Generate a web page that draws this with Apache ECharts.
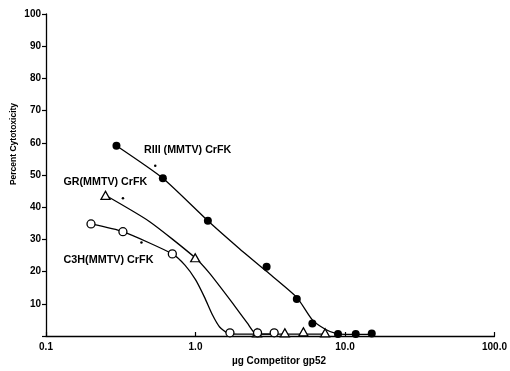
<!DOCTYPE html>
<html><head><meta charset="utf-8">
<script src="https://cdn.jsdelivr.net/npm/echarts@6/dist/echarts.min.js"></script>
<style>html,body{margin:0;padding:0;background:#fff}#c{width:510px;height:371px}</style>
</head><body><div id="c"></div>
<script>
// ---- data ----
const xTickValues = [0.1, 1, 10, 100];
const xTickLabels = ['0.1', '1.0', '10.0', '100.0'];

const riiiX = [0.296, 0.605, 1.21, 2.99, 4.76, 6.05, 8.98, 11.8, 15.1];
const riiiY = [59.1, 49.0, 35.8, 21.5, 11.5, 3.9, 0.6, 0.6, 0.8];
const grX = [0.25, 0.995, 2.58, 3.96, 5.27, 7.36];
const grY = [43.7, 24.3, 1.0, 1.0, 1.3, 1.0];
const c3hX = [0.2, 0.327, 0.70, 1.70, 2.6, 3.36];
const c3hY = [34.8, 32.4, 25.5, 1.0, 1.0, 1.0];

const riiiFitX = [0.296, 0.605, 1.21, 1.96, 3.0, 4.76, 6.05, 7.43, 8.67, 10, 15.5];
const riiiFitY = [59.1, 49.0, 35.8, 27.2, 20.0, 12.0, 5.0, 2.0, 0.8, 0.5, 0.5];
const grFitX = [0.25, 0.494, 0.995, 1.24, 1.77, 2.23, 2.48, 2.8, 7.4];
const grFitY = [43.7, 35.5, 24.3, 19.5, 10.2, 3.9, 1.0, 0.6, 0.6];
const c3hFitX = [0.2, 0.327, 0.70, 0.85, 1.0, 1.15, 1.3, 1.45, 1.65, 1.9, 3.4];
const c3hFitY = [34.8, 32.4, 25.5, 22.0, 17.5, 12.0, 6.5, 2.8, 0.8, 0.6, 0.6];

const dotX = [0.538, 0.327, 0.435];
const dotY = [52.9, 42.8, 29.0];

const seriesNames = ['RIII (MMTV) CrFK', 'GR(MMTV) CrFK', 'C3H(MMTV) CrFK'];
const xTitle = 'µg Competitor gp52';
const yTitle = 'Percent Cytotoxicity';

// ---- build ----
const zip = (a, b) => a.map((v, i) => [v, b[i]]);
const FONT = '"Liberation Sans", Arial, Helvetica, sans-serif';
const lineStyle = { color: '#000', width: 1.3 };

function fitLine(x, y) {
  return { type: 'line', data: zip(x, y), showSymbol: false, smooth: 0.2,
    lineStyle: lineStyle, silent: true, z: 2 };
}

const chart = echarts.init(document.getElementById('c'), null, { renderer: 'canvas' });
chart.setOption({
  animation: false,
  backgroundColor: '#fff',
  grid: { left: 46, right: 14, top: 14, bottom: 35 },
  xAxis: {
    type: 'log', logBase: 10, min: 0.1, max: 100,
    axisLine: { lineStyle: { color: '#000', width: 1.3 } },
    axisTick: { inside: true, length: 4, lineStyle: { color: '#000', width: 1.2 } },
    minorTick: { show: false },
    splitLine: { show: false },
    axisLabel: {
      color: '#000', fontFamily: FONT, fontWeight: 'bold', fontSize: 10, margin: 6,
      showMinLabel: true, showMaxLabel: true,
      formatter: v => {
        const i = xTickValues.findIndex(t => Math.abs(Math.log10(t) - Math.log10(v)) < 1e-6);
        return i >= 0 ? xTickLabels[i] : '';
      }
    }
  },
  yAxis: {
    type: 'value', min: 0, max: 100, interval: 10,
    axisLine: { show: true, lineStyle: { color: '#000', width: 1.3 } },
    axisTick: { show: true, inside: false, length: 4, lineStyle: { color: '#000', width: 1.2 } },
    splitLine: { show: false },
    axisLabel: {
      color: '#000', fontFamily: FONT, fontWeight: 'bold', fontSize: 10, margin: 5,
      formatter: v => v === 0 ? '' : String(v)
    }
  },
  graphic: [
    { type: 'text', x: 14, y: 144, rotation: Math.PI / 2,
      style: { text: yTitle, font: 'bold 8.5px ' + FONT, fill: '#000', align: 'center', verticalAlign: 'middle' } },
    { type: 'text', x: 279, y: 361,
      style: { text: xTitle, font: 'bold 10px ' + FONT, fill: '#000', align: 'center', verticalAlign: 'middle' } },
    { type: 'text', x: 144, y: 150.5,
      style: { text: seriesNames[0], font: 'bold 10.7px ' + FONT, fill: '#000', align: 'left', verticalAlign: 'middle' } },
    { type: 'text', x: 63.5, y: 182,
      style: { text: seriesNames[1], font: 'bold 10.7px ' + FONT, fill: '#000', align: 'left', verticalAlign: 'middle' } },
    { type: 'text', x: 63.5, y: 260,
      style: { text: seriesNames[2], font: 'bold 10.8px ' + FONT, fill: '#000', align: 'left', verticalAlign: 'middle' } }
  ],
  series: [
    fitLine(riiiFitX, riiiFitY),
    fitLine(grFitX, grFitY),
    fitLine(c3hFitX, c3hFitY),
    { name: seriesNames[0], type: 'scatter', data: zip(riiiX, riiiY), symbol: 'circle', symbolSize: 8,
      itemStyle: { color: '#000', opacity: 1 }, z: 4 },
    { name: seriesNames[1], type: 'scatter', data: zip(grX, grY), symbol: 'triangle', symbolSize: [9, 8],
      itemStyle: { color: '#fff', borderColor: '#000', borderWidth: 1.3, opacity: 1 }, z: 5 },
    { name: seriesNames[2], type: 'scatter', data: zip(c3hX, c3hY), symbol: 'circle', symbolSize: 8,
      itemStyle: { color: '#fff', borderColor: '#000', borderWidth: 1.3, opacity: 1 }, z: 5 },
    { type: 'scatter', data: zip(dotX, dotY), symbol: 'circle', symbolSize: 2.5,
      itemStyle: { color: '#000', opacity: 1 }, z: 3, silent: true }
  ]
});
</script>
</body></html>
